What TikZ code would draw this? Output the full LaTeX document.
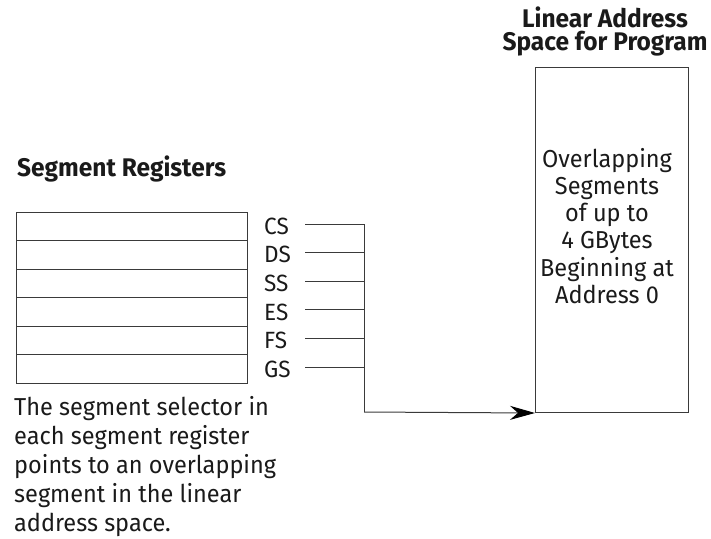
\documentclass[tikz,border=0pt]{standalone}
\usepackage{fontspec}
\setmainfont{Fira Sans}[FakeStretch=0.96]
\usetikzlibrary{arrows.meta}
\definecolor{inkc}{HTML}{1A1A1A}
\definecolor{linec}{HTML}{3A3A3A}
\tikzset{
  regrow/.style={draw=linec, line width=1pt, minimum width=231pt, minimum height=28.55pt, inner sep=0pt},
  reglabel/.style={anchor=base west, inner sep=0pt, text width=30pt, align=left, text=inkc, font=\fontsize{23.5}{26}\selectfont},
  wire/.style={draw=linec, line width=1pt},
  heading/.style={text=inkc, inner sep=0pt, font=\fontsize{25.5}{23.5}\selectfont\bfseries},
  bodytext/.style={text=inkc, inner sep=0pt, font=\fontsize{24.5}{27.2}\selectfont},
}
\begin{document}
\begin{tikzpicture}[x=1pt, y=-1pt]
\useasboundingbox (0,0) rectangle (711,538);

% segment register file
\node[heading, anchor=base west] (srtitle) at (17,176) {Segment Registers};
\foreach \i in {0,...,5} {
  \node[regrow] (r\i) at (131.5, 226.3+28.55*\i) {};
}

% register names
\node[reglabel] (cs) at (264, 234.3) {CS};
\node[reglabel] (ds) at (264, 262.9) {DS};
\node[reglabel] (ss) at (264, 291.5) {SS};
\node[reglabel] (es) at (264, 320.1) {ES};
\node[reglabel] (fs) at (264, 348.7) {FS};
\node[reglabel] (gs) at (264, 377.3) {GS};

% linear address space (multi-line nodes sit on their last baseline)
\node[heading, align=center, anchor=base] (lastitle) at (605, 50.5) {Linear Address\\Space for Program};
\node[draw=linec, line width=1pt, anchor=north west, minimum width=153pt, minimum height=345pt, inner sep=0pt] (las) at (535,67) {};
\node[bodytext, align=center, anchor=base] (lastext) at (607, 303.3) {Overlapping\\Segments\\of up to\\4 GBytes\\Beginning at\\Address 0};

% selector bus
\coordinate (bcs) at (364, 224.0);
\coordinate (bds) at (364, 252.6);
\coordinate (bss) at (364, 281.2);
\coordinate (bes) at (364, 309.8);
\coordinate (bfs) at (364, 338.4);
\coordinate (bgs) at (364, 367.0);
\coordinate (bend) at (364, 412);
\foreach \s in {cs,ds,ss,es,fs,gs} {
  \draw[wire, shorten <=11pt] (b\s -| \s.east) -- (b\s);
}
\draw[wire] (bcs) -- (bend);
\draw[wire, -{Stealth[length=25pt, width=14pt, inset=8pt, color=black, fill=black]}] (bend) -- (las.south west);

% caption
\node[bodytext, anchor=base west, align=left, font=\fontsize{24.5}{28.8}\selectfont] (caption) at (14, 531) {The segment selector in\\each segment register\\points to an overlapping\\segment in the linear\\address space.};
\end{tikzpicture}
\end{document}
